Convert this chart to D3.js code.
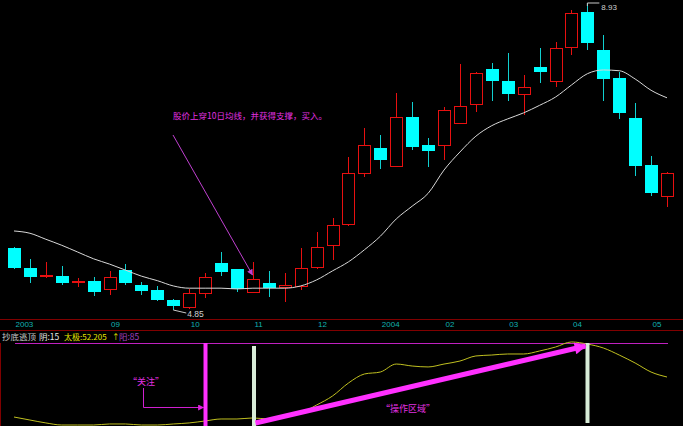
<!DOCTYPE html>
<html><head><meta charset="utf-8">
<script src="https://cdn.jsdelivr.net/npm/d3@7"></script>
<style>
html,body{margin:0;padding:0;background:#000;overflow:hidden}
svg{display:block}
</style></head>
<body>
<svg id="c" width="683" height="426"></svg>
<script>
// ---- data (weekly candles, 2003-2004) ----
const openP  = [5.67,5.41,5.30,5.30,5.22,5.24,5.13,5.38,5.18,5.12,4.98,4.89,5.08,5.47,5.39,5.09,5.21,5.16,5.17,5.42,5.71,5.99,6.67,7.00,6.76,7.41,7.04,7.04,7.34,7.59,8.05,7.89,7.72,8.08,7.89,8.35,8.81,8.31,7.93,7.40,6.78,6.37];
const highP  = [5.69,5.53,5.49,5.43,5.28,5.29,5.37,5.46,5.22,5.17,4.99,5.13,5.34,5.62,5.40,5.49,5.37,5.34,5.67,5.89,6.07,6.88,7.27,7.18,7.73,7.61,7.14,7.55,8.12,8.01,8.13,8.27,7.97,8.33,8.41,8.84,8.93,8.50,8.01,7.60,6.90,6.68];
const lowP   = [5.39,5.21,5.28,5.18,5.16,5.04,5.05,5.18,5.05,4.97,4.85,4.86,5.01,5.30,5.09,5.08,5.02,4.96,5.12,5.39,5.51,5.97,6.62,6.72,6.75,6.98,6.75,6.84,7.33,7.48,7.63,7.63,7.44,7.87,7.81,8.24,8.31,7.63,7.39,6.63,6.37,6.22];
const closeP = [5.41,5.29,5.31,5.21,5.23,5.09,5.29,5.21,5.10,4.98,4.90,5.08,5.29,5.36,5.13,5.26,5.14,5.18,5.41,5.69,5.98,6.67,7.04,6.84,7.41,7.02,6.96,7.51,7.56,8.00,7.89,7.72,7.81,8.01,8.33,8.80,8.40,7.92,7.47,6.76,6.40,6.67];
const ma10   = [5.90,5.87,5.79,5.71,5.62,5.53,5.46,5.38,5.30,5.24,5.17,5.14,5.14,5.14,5.13,5.14,5.14,5.14,5.17,5.25,5.37,5.49,5.65,5.83,6.06,6.23,6.40,6.71,6.95,7.16,7.30,7.39,7.47,7.57,7.68,7.84,7.99,8.04,8.03,7.92,7.77,7.67];
const taiji  = [13.6,10.7,7.9,5.9,5.9,5.9,6.9,6.9,5.9,5.9,6.9,7.9,9.8,11.7,11.7,12.7,11.7,13.6,17.5,25.2,33.9,46.4,55.1,57.0,64.7,62.8,61.9,64.7,67.6,72.5,73.4,74.4,74.4,77.3,81.1,86.0,84.0,80.2,73.4,65.7,57.0,52.205];
const tickLabels = ["2003","09","10","11","12","2004","02","03","04","05"];
const tickIdx    = [0,6,11,15,19,23,27,31,35,40];
const levelYin = 15, levelYang = 85;
const noteText = "股价上穿10日均线，并获得支撑，买入。";
const watchText = "“关注”";
const zoneText = "“操作区域”";
const markWatch = 12, markBuy = 15, markSell = 36;

// ---- drawing ----
const svg = d3.select("#c");
svg.append("rect").attr("width",683).attr("height",426).attr("fill","#000");
const n = openP.length;
const xs = d3.scalePoint().domain(d3.range(n)).range([14, 667]);
const y = d3.scaleLinear().domain([d3.min(lowP), d3.max(highP)]).range([310, 3]);
const yi = d3.scaleLinear().domain([taiji[n-1], levelYang]).range([377, 343]);
const cx = i => Math.round(xs(i)) + 0.5;

const RED = "#e81010", CYAN = "#00ffff";
const g = svg.append("g").attr("shape-rendering","crispEdges");
d3.range(n).forEach(i => {
  const o = openP[i], c = closeP[i], h = highP[i], l = lowP[i];
  const up = c >= o;
  const x = cx(i);
  const top = Math.round(y(Math.max(o,c))), bot = Math.round(y(Math.min(o,c)));
  if (up) {
    g.append("line").attr("x1",x).attr("x2",x).attr("y1",Math.round(y(h))).attr("y2",top).attr("stroke",RED);
    g.append("line").attr("x1",x).attr("x2",x).attr("y1",bot).attr("y2",Math.round(y(l))).attr("stroke",RED);
    g.append("rect").attr("x",x-6).attr("y",top+0.5).attr("width",12).attr("height",Math.max(0,bot-top))
      .attr("fill","#000").attr("stroke",RED);
  } else {
    g.append("line").attr("x1",x).attr("x2",x).attr("y1",Math.round(y(h))).attr("y2",Math.round(y(l))).attr("stroke","#10d0d0");
    g.append("rect").attr("x",x-6.5).attr("y",top).attr("width",13).attr("height",Math.max(1,bot-top)).attr("fill",CYAN);
  }
});

// MA line
svg.append("path").datum(ma10)
  .attr("d", d3.line().x((d,i)=>xs(i)).y(d=>y(d)).curve(d3.curveMonotoneX))
  .attr("fill","none").attr("stroke","#d8d8d8").attr("stroke-width",1);

// min / max labels
const iMin = d3.minIndex(lowP), iMax = d3.maxIndex(highP);
svg.append("path").attr("d",`M${xs(iMin)},${y(lowP[iMin])} L${xs(iMin)+13},${y(lowP[iMin])+3}`)
  .attr("stroke","#c8c8c8").attr("fill","none");
svg.append("text").attr("x",xs(iMin)+14).attr("y",y(lowP[iMin])+7).text(d3.format(".2f")(lowP[iMin]))
  .attr("fill","#d0d0d0").attr("font-family","Liberation Sans, Arial").attr("font-size",8.5);
svg.append("path").attr("d",`M${xs(iMax)},${y(highP[iMax])+3} L${xs(iMax)},${y(highP[iMax])} L${xs(iMax)+12},${y(highP[iMax])}`)
  .attr("stroke","#c8c8c8").attr("fill","none");
svg.append("text").attr("x",xs(iMax)+14).attr("y",y(highP[iMax])+6.5).text(d3.format(".2f")(highP[iMax]))
  .attr("fill","#d0d0d0").attr("font-family","Liberation Sans, Arial").attr("font-size",8);

// annotation in price panel
const defs = svg.append("defs");
function marker(id, color, w, h){
  defs.append("marker").attr("id",id).attr("viewBox","0 0 10 10").attr("refX",9).attr("refY",5)
    .attr("markerWidth",w).attr("markerHeight",h).attr("orient","auto").attr("markerUnits","userSpaceOnUse")
    .append("path").attr("d","M0,0 L10,5 L0,10 z").attr("fill",color);
}
marker("a1","#c040d0",7,6);
marker("a2","#e020e0",7,6);
marker("a3","#ff30ff",14,12);
svg.append("text").attr("x",173).attr("y",119).text(noteText)
  .attr("fill","#e030e0").attr("font-family","Noto Sans CJK SC").attr("font-size",8.5);
svg.append("line").attr("x1",173).attr("y1",135).attr("x2",cx(markBuy)-1).attr("y2",y(openP[markBuy])-17)
  .attr("stroke","#c040d0").attr("stroke-width",1).attr("marker-end","url(#a1)");

// axis band
svg.append("line").attr("x1",0).attr("x2",683).attr("y1",319.5).attr("y2",319.5).attr("stroke","#800000");
svg.append("line").attr("x1",0).attr("x2",683).attr("y1",330.5).attr("y2",330.5).attr("stroke","#800000");
const axis = d3.axisBottom(xs).tickValues(tickIdx).tickSize(0).tickFormat(i => tickLabels[tickIdx.indexOf(i)]);
const ax = svg.append("g").attr("transform","translate(0,320)").call(axis);
ax.select(".domain").remove();
ax.selectAll("text").attr("text-anchor","start").attr("dx",1).attr("y",0).attr("dy","0.82em")
  .attr("fill","#10b0b0").attr("font-family","Liberation Sans, Arial").attr("font-size",8);

// indicator title (separate pieces)
const titleParts = [
  {x:2,   txt:"抄底逃顶", fill:"#c8c8c8", fs:8.5},
  {x:39,  txt:"阴:"+levelYin, fill:"#e8e8e8", fs:8.5},
  {x:64,  txt:"太极:"+taiji[n-1], fill:"#e8e800", fs:8},
  {x:112, txt:"↑", fill:"#e8e800", fs:7.5},
  {x:119, txt:"阳:"+levelYang, fill:"#a040c0", fs:8.5}
];
svg.append("g").selectAll("text").data(titleParts).join("text")
  .attr("x",d=>d.x).attr("y",339.5).text(d=>d.txt).attr("fill",d=>d.fill)
  .attr("font-family","Noto Sans CJK SC").attr("font-size",d=>d.fs);

// indicator panel
svg.append("line").attr("x1",0.5).attr("x2",0.5).attr("y1",343).attr("y2",426).attr("stroke","#800000");
svg.append("line").attr("x1",xs(0)+1).attr("x2",xs(n-1)+1).attr("y1",Math.round(yi(levelYang))+0.5).attr("y2",Math.round(yi(levelYang))+0.5)
  .attr("stroke","#c020c0").attr("stroke-width",1);
svg.append("path").datum(taiji)
  .attr("d", d3.line().x((d,i)=>xs(i)).y(d=>yi(d)).curve(d3.curveMonotoneX))
  .attr("fill","none").attr("stroke","#c0c020").attr("stroke-width",1);

// markers
svg.append("rect").attr("x",cx(markWatch)-2).attr("y",yi(levelYang)).attr("width",4).attr("height",90).attr("fill","#ff30ff");
svg.append("rect").attr("x",cx(markBuy)-1.5).attr("y",yi(levelYang)+3).attr("width",4).attr("height",90).attr("fill","#d8ecd8");
svg.append("rect").attr("x",cx(markSell)-2).attr("y",yi(levelYang)).attr("width",4).attr("height",80).attr("fill","#d8ecd8");

svg.append("text").attr("x",128).attr("y",385).text(watchText)
  .attr("fill","#e030e0").attr("font-family","Noto Sans CJK SC").attr("font-size",9);
svg.append("path").attr("d",`M143.5,388 L143.5,407.5 L${cx(markWatch)-2},407.5`)
  .attr("fill","none").attr("stroke","#d020d0").attr("marker-end","url(#a2)");
svg.append("text").attr("x",381).attr("y",412).text(zoneText)
  .attr("fill","#e030e0").attr("font-family","Noto Sans CJK SC").attr("font-size",9);
svg.append("line").attr("x1",cx(markBuy)+2).attr("y1",423).attr("x2",cx(markSell)-2).attr("y2",yi(levelYang)+3)
  .attr("stroke","#ff30ff").attr("stroke-width",5).attr("marker-end","url(#a3)");
</script>
</body></html>
